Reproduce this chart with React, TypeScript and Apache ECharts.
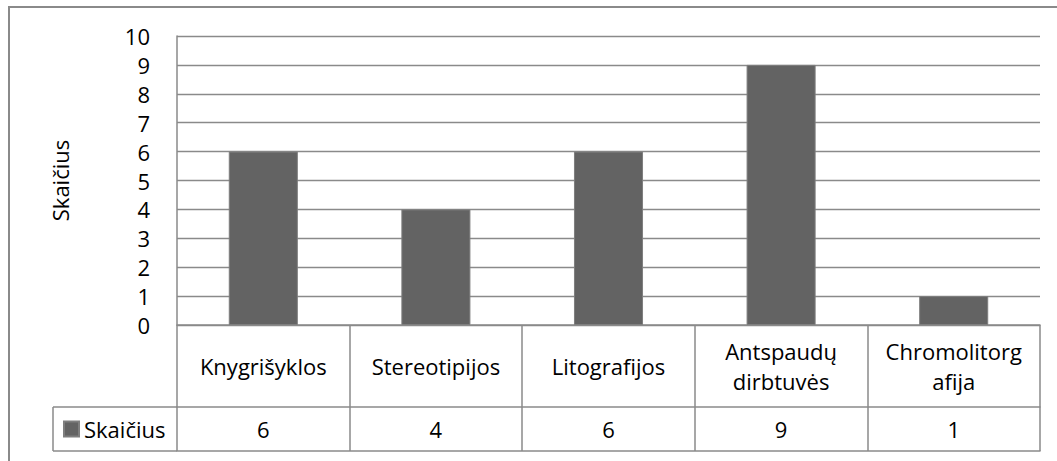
import React, { useEffect, useRef } from 'react';
import * as echarts from 'echarts';

const categories = ['Knygrišyklos', 'Stereotipijos', 'Litografijos', 'Antspaudų dirbtuvės', 'Chromolitorgafija'];
const categoryLabels = ['Knygrišyklos', 'Stereotipijos', 'Litografijos', 'Antspaudų\ndirbtuvės', 'Chromolitorg\nafija'];
const values = [6, 4, 6, 9, 1];
const seriesName = 'Skaičius';
const yMin = 0;
const yMax = 10;
const yInterval = 1;

const FONT = '"Open Sans", "Noto Sans", sans-serif';
const BORDER = '#8a8a8a';
const BAR = '#636363';

export default function App() {
  const ref = useRef<HTMLDivElement>(null);
  useEffect(() => {
    if (!ref.current) return;
    const chart = echarts.init(ref.current, undefined, { renderer: 'svg' });
    const lineStyle = { color: BORDER, width: 1.5 };
    chart.setOption({
      animation: false,
      backgroundColor: '#fff',
      textStyle: { fontFamily: FONT },
      grid: { left: 177, top: 36, width: 863, height: 289, containLabel: false },
      legend: {
        data: [seriesName],
        left: 63,
        top: 416,
        padding: 0,
        icon: 'rect',
        itemWidth: 15,
        itemHeight: 15,
        selectedMode: false,
        textStyle: { fontSize: 22, color: '#000', fontFamily: FONT, lineHeight: 26 },
      },
      xAxis: [
        {
          type: 'category',
          data: categories,
          position: 'bottom',
          axisLine: { show: true, lineStyle },
          axisTick: { show: true, interval: 0, length: 82, lineStyle },
          axisLabel: {
            interval: 0,
            formatter: (_v: string, i: number) => categoryLabels[i],
            fontSize: 22,
            fontFamily: FONT,
            color: '#000',
            lineHeight: 30,
            margin: 41,
            verticalAlign: 'middle',
          },
          splitLine: { show: false },
        },
        {
          type: 'category',
          data: categories,
          position: 'bottom',
          offset: 82,
          axisLine: { show: true, lineStyle },
          axisTick: { show: true, interval: 0, length: 44, lineStyle },
          axisLabel: {
            interval: 0,
            formatter: (_v: string, i: number) => String(values[i]),
            fontSize: 22,
            fontFamily: FONT,
            color: '#000',
            margin: 22,
            verticalAlign: 'middle',
          },
          splitLine: { show: false },
        },
        {
          type: 'category',
          data: categories,
          position: 'bottom',
          offset: 126,
          axisLine: { show: true, lineStyle },
          axisTick: { show: false },
          axisLabel: { show: false },
          splitLine: { show: false },
        },
      ],
      yAxis: {
        type: 'value',
        min: yMin,
        max: yMax,
        interval: yInterval,
        name: seriesName,
        nameLocation: 'middle',
        nameGap: 106,
        nameRotate: 90,
        nameTextStyle: { fontSize: 22, color: '#000', fontFamily: FONT },
        axisLine: { show: true, lineStyle },
        axisTick: { show: false },
        axisLabel: { fontSize: 22, color: '#000', fontFamily: FONT, margin: 27 },
        splitLine: { show: true, lineStyle: { color: BORDER, width: 1.3 } },
      },
      series: [
        {
          name: seriesName,
          type: 'bar',
          data: values,
          xAxisIndex: 0,
          barWidth: '40%',
          itemStyle: { color: BAR, borderColor: '#7e7e7e', borderWidth: 1 },
        },
      ],
      graphic: [
        {
          type: 'rect',
          shape: { x: 9, y: 7, width: 1300, height: 700 },
          style: { fill: 'none', stroke: BORDER, lineWidth: 2 },
          silent: true,
        },
        { type: 'line', shape: { x1: 53, y1: 407, x2: 177, y2: 407 }, style: { stroke: BORDER, lineWidth: 1.5 } },
        { type: 'line', shape: { x1: 53, y1: 451, x2: 177, y2: 451 }, style: { stroke: BORDER, lineWidth: 1.5 } },
        { type: 'line', shape: { x1: 53, y1: 407, x2: 53, y2: 451 }, style: { stroke: BORDER, lineWidth: 1.5 } },
      ],
    });
    return () => chart.dispose();
  }, []);
  return (
    <div
      ref={ref}
      style={{ position: 'absolute', left: 0, top: 0, width: 1057, height: 461, background: '#fff' }}
    />
  );
}
